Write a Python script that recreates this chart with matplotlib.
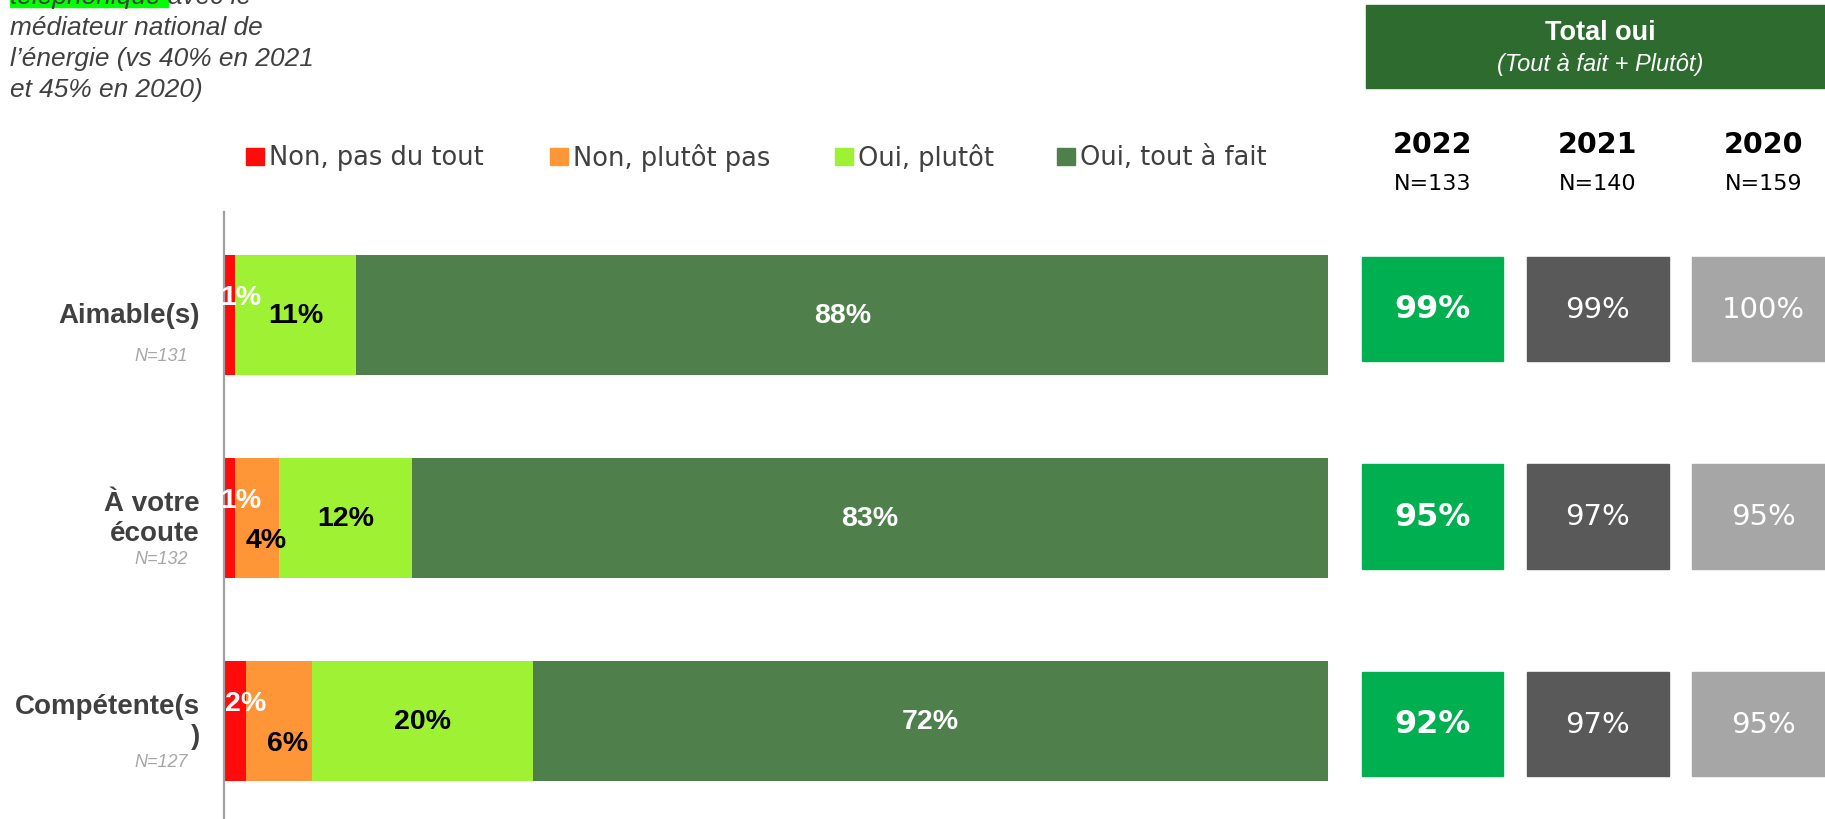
import matplotlib.pyplot as plt
from matplotlib.patches import Rectangle
from matplotlib.transforms import blended_transform_factory as blend

categories = ["Aimable(s)", "À votre\nécoute", "Compétente(s\n)"]
sample_sizes = ["N=131", "N=132", "N=127"]
series = ["Non, pas du tout", "Non, plutôt pas", "Oui, plutôt", "Oui, tout à fait"]
non_pas_du_tout = [1, 1, 2]
non_plutot_pas = [0, 4, 6]
oui_plutot = [11, 12, 20]
oui_tout_a_fait = [88, 83, 72]

years = ["2022", "2021", "2020"]
year_n = ["N=133", "N=140", "N=159"]
total_2022 = [99, 95, 92]
total_2021 = [99, 97, 97]
total_2020 = [100, 95, 95]

colors = ["#FF0B0B", "#FE9536", "#9FF233", "#4F804B"]
label_colors = ["white", "black", "black", "white"]
# vertical / horizontal nudges of the value labels, per segment
label_dy = [-0.09, 0.11, 0.0, 0.0]
label_dx = [1.0, 0.8, 0.0, 0.0]
box_colors = ["#00B050", "#595959", "#A6A6A6"]
grey = "#404040"

W, H = 1825, 820
fig = plt.figure(figsize=(W / 100, H / 100), dpi=100)

# ---- stacked bars ----
ax = fig.add_axes([224 / W, 0, 1104 / W, 607 / H])
ax.set_xlim(0, 100)
ax.set_ylim(2.483, -0.507)
for s in ["top", "right", "bottom"]:
    ax.spines[s].set_visible(False)
ax.spines["left"].set_color("#A0A0A0")
ax.spines["left"].set_linewidth(1.6)
ax.set_xticks([])
ax.set_yticks([])

values = [non_pas_du_tout, non_plutot_pas, oui_plutot, oui_tout_a_fait]
ypos = list(range(len(categories)))
left = [0] * len(categories)
for k, vals in enumerate(values):
    ax.barh(ypos, vals, left=left, height=0.591, color=colors[k], zorder=2)
    for i, v in enumerate(vals):
        if v > 0:
            ax.text(left[i] + v / 2 + label_dx[k], i + label_dy[k], f"{v}%",
                    ha="center", va="center", fontsize=20.5, fontweight="bold",
                    color=label_colors[k], family="Liberation Sans", zorder=3)
    left = [a + b for a, b in zip(left, vals)]

tr = blend(fig.transFigure, ax.transData)
for i, (cat, n) in enumerate(zip(categories, sample_sizes)):
    fig.text(200 / W, i, cat, transform=tr, ha="right", va="center",
             multialignment="right", fontsize=20, fontweight="bold",
             color=grey, family="Liberation Sans", linespacing=1.2)
    fig.text(188 / W, i + 0.2, n, transform=tr, ha="right", va="center",
             fontsize=13, style="italic", color="#A6A6A6",
             family="Liberation Sans")

# ---- legend ----
leg_x = [246, 550, 835, 1057]
for k, name in enumerate(series):
    fig.patches.append(Rectangle((leg_x[k] / W, 1 - 166 / H), 18 / W, 17 / H,
                                 color=colors[k], transform=fig.transFigure))
    fig.text((leg_x[k] + 23) / W, 1 - 158 / H, name, ha="left", va="center",
             fontsize=18.5, color=grey, family="DejaVu Sans")

# ---- top-left note (cut at the top) ----
fig.patches.append(Rectangle((10 / W, 1 - 8 / H), 158 / W, 8 / H,
                             color="#00FF00", transform=fig.transFigure))
note = ["téléphonique avec le", "médiateur national de",
        "l’énergie (vs 40% en 2021", "et 45% en 2020)"]
for j, line in enumerate(note):
    fig.text(10 / W, 1 - (4 + 31 * j) / H, line, ha="left", va="baseline",
             fontsize=18.9, style="italic", color=grey, family="Liberation Sans")

# ---- Total oui panel ----
fig.patches.append(Rectangle((1366 / W, 1 - 89 / H), (W - 1366) / W, 83 / H,
                             color="#2E6B2F", transform=fig.transFigure))
fig.text(1600 / W, 1 - 33 / H, "Total oui", ha="center", va="center",
         fontsize=19.5, fontweight="bold", color="white", family="Liberation Sans")
fig.text(1600 / W, 1 - 65 / H, "(Tout à fait + Plutôt)", ha="center", va="center",
         fontsize=17, style="italic", color="white", family="Liberation Sans")

ax2 = fig.add_axes([1340 / W, 0, 485 / W, 607 / H])
ax2.set_xlim(-0.559, 2.372)
ax2.set_ylim(2.458, -0.467)
ax2.axis("off")
totals = [total_2022, total_2021, total_2020]
for j, vals in enumerate(totals):
    for i, v in enumerate(vals):
        ax2.add_patch(Rectangle((j - 0.429, i - 0.251), 0.858, 0.502,
                                color=box_colors[j]))
        ax2.text(j, i, f"{v}%", ha="center", va="center", color="white",
                 fontsize=23 if j == 0 else 21,
                 fontweight="bold" if j == 0 else "normal", family="DejaVu Sans")

tr2 = blend(ax2.transData, fig.transFigure)
for j, (yr, n) in enumerate(zip(years, year_n)):
    fig.text(j, 1 - 145 / H, yr, transform=tr2, ha="center", va="center",
             fontsize=20.5, fontweight="bold", color="black", family="DejaVu Sans")
    fig.text(j, 1 - 184 / H, n, transform=tr2, ha="center", va="center",
             fontsize=16, color="black", family="DejaVu Sans")

fig.savefig("out.png", dpi=100)
